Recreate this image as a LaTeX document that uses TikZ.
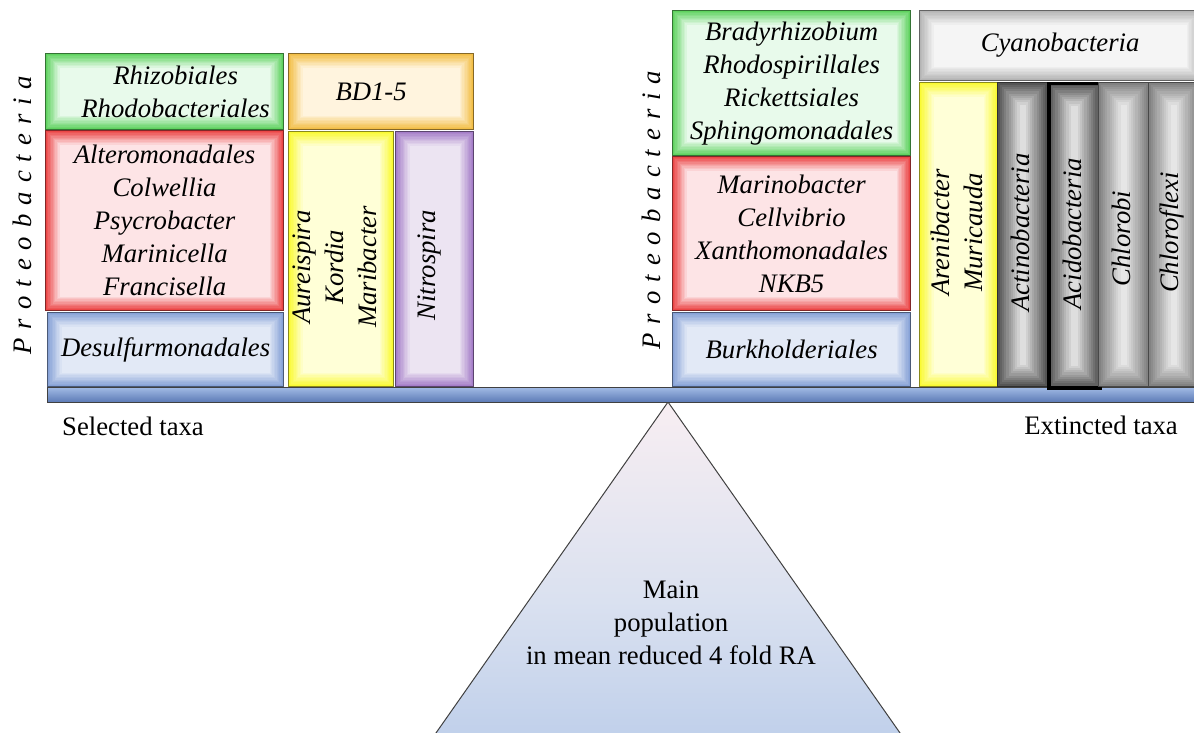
\documentclass[tikz,border=0pt]{standalone}
\usepackage{fontspec}
\setmainfont{Liberation Serif}
\usetikzlibrary{calc}

\definecolor{gGlow}{RGB}{95,210,95}
\definecolor{gPale}{RGB}{232,250,235}
\definecolor{rGlow}{RGB}{235,70,70}
\definecolor{rPale}{RGB}{253,228,230}
\definecolor{bGlow}{RGB}{135,162,215}
\definecolor{bPale}{RGB}{226,233,246}
\definecolor{oGlow}{RGB}{242,190,70}
\definecolor{oPale}{RGB}{255,244,222}
\definecolor{yGlow}{RGB}{250,250,50}
\definecolor{yPale}{RGB}{255,255,215}
\definecolor{pGlow}{RGB}{165,125,200}
\definecolor{pPale}{RGB}{236,228,242}
\definecolor{kGlow}{RGB}{85,85,85}
\definecolor{kPale}{RGB}{222,222,222}
\definecolor{lGlow}{RGB}{130,130,130}
\definecolor{lPale}{RGB}{230,230,230}
\definecolor{wGlow}{RGB}{180,180,180}
\definecolor{wPale}{RGB}{245,245,245}
\definecolor{beamTop}{RGB}{160,185,228}
\definecolor{beamBot}{RGB}{90,120,180}
\definecolor{fulTop}{RGB}{248,238,242}
\definecolor{fulMid}{RGB}{218,225,240}
\definecolor{fulBot}{RGB}{180,200,232}

\newcommand{\txfont}{\fontsize{26.7pt}{33pt}\selectfont}

\tikzset{
  glow step/.store in=\glowstep, glow step=1.4pt,
  taxon/.style 2 args={draw=#1!55!black, line width=1.2pt, anchor=north west,
    inner sep=0pt, align=center, font=\txfont\itshape,
    path picture={
      \foreach \i [evaluate=\i as \p using int(100-10*\i)] in {0,...,10}
        \fill[#1!\p!#2] ($(path picture bounding box.south west)+(\i*\glowstep,\i*\glowstep)$)
          rectangle ($(path picture bounding box.north east)-(\i*\glowstep,\i*\glowstep)$);
    }},
  vlabel/.style={rotate=90, align=center, inner sep=0pt, font=\txfont\itshape},
  plain/.style={align=center, inner sep=0pt, font=\txfont}
}

\begin{document}
\begin{tikzpicture}[x=1pt, y=-1pt]
    \useasboundingbox (0,0) rectangle (1194,733);

    % fulcrum
    \coordinate (apex) at (668,402);
    \draw[line width=1pt, black!75, top color=fulTop, bottom color=fulBot, middle color=fulMid]
        (apex) -- (389,800) -- (947,800) -- cycle;
    \node[plain] (mainPop) at (671,623) {Main\\population\\in mean reduced 4 fold RA};

    % beam
    \node[draw=black!75, line width=1.2pt, anchor=north west, minimum width=1153pt, minimum height=15pt,
        inner sep=0pt, top color=beamTop, bottom color=beamBot] (beam) at (47,387) {};

    % selected side
    \node[taxon={gGlow}{gPale}, minimum width=238pt, minimum height=76pt] (lGreen) at (45,53) {\hspace*{22pt}Rhizobiales\\\hspace*{22pt}Rhodobacteriales};
    \node[taxon={rGlow}{rPale}, minimum width=238pt, minimum height=180pt] (lRed) at (45,130)
        {Alteromonadales\\Colwellia\\Psycrobacter\\Marinicella\\Francisella};
    \node[taxon={bGlow}{bPale}, minimum width=236pt, minimum height=74pt] (lBlue) at (47,312) {Desulfurmonadales};
    \node[taxon={oGlow}{oPale}, minimum width=185pt, minimum height=76pt] (bdBox) at (288,53) {BD1-5\hspace*{20pt}};
    \node[taxon={yGlow}{yPale}, minimum width=105pt, minimum height=255pt] (lYellow) at (288,131) {};
    \node[taxon={pGlow}{pPale}, minimum width=78pt, minimum height=255pt] (lPurple) at (395,131) {};
    \node[vlabel] (aureiText) at ($(lYellow)+(-6,8)$) {Aureispira\\Kordia\\Maribacter};
    \node[vlabel] (nitroText) at ($(lPurple)+(-5,6)$) {Nitrospira};
    \node[rotate=90, inner sep=0pt, font=\txfont\itshape] (lProteo) at (22,215)
        {\spaceskip=9pt P r o t e o b a c t e r i a};

    % extincted side
    \node[taxon={gGlow}{gPale}, minimum width=238pt, minimum height=145pt] (rGreen) at (672,10)
        {Bradyrhizobium\\Rhodospirillales\\Rickettsiales\\Sphingomonadales};
    \node[taxon={rGlow}{rPale}, minimum width=238pt, minimum height=154pt] (rRed) at (672,156)
        {Marinobacter\\Cellvibrio\\Xanthomonadales\\NKB5};
    \node[taxon={bGlow}{bPale}, minimum width=238pt, minimum height=74pt] (rBlue) at (672,312) {Burkholderiales};
    \node[taxon={wGlow}{wPale}, minimum width=281pt, minimum height=70pt] (cyano) at (919,10) {Cyanobacteria};
    \node[taxon={yGlow}{yPale}, minimum width=78pt, minimum height=304pt] (rYellow) at (919,82) {};
    \node[taxon={kGlow}{kPale}, glow step=2.2pt, minimum width=50pt, minimum height=304pt] (actino) at (997,82) {};
    \node[taxon={kGlow}{kPale}, glow step=2.2pt, minimum width=51pt, minimum height=304pt, draw=black, line width=3.5pt] (acido) at (1047,82) {};
    \node[taxon={lGlow}{lPale}, glow step=2.2pt, minimum width=50pt, minimum height=304pt] (chlorobi) at (1098,82) {};
    \node[taxon={lGlow}{lPale}, glow step=2.2pt, minimum width=50pt, minimum height=304pt] (chloroflexi) at (1148,82) {};
    \node[vlabel] (areniText) at ($(rYellow)+(-2,-2)$) {Arenibacter\\Muricauda};
    \node[vlabel] (actinoText) at ($(actino)+(-2,-2)$) {Actinobacteria};
    \node[vlabel] (acidoText) at ($(acido)+(-2,-2)$) {Acidobacteria};
    \node[vlabel] (chlorobiText) at ($(chlorobi)+(-2,4)$) {Chlorobi};
    \node[vlabel] (chloroflexiText) at ($(chloroflexi)+(-2,-2)$) {Chloroflexi};
    \node[rotate=90, inner sep=0pt, font=\txfont\itshape] (rProteo) at (651,210)
        {\spaceskip=9pt P r o t e o b a c t e r i a};

    % side labels
    \node[plain, anchor=base west] (selLabel) at (62,435) {Selected taxa};
    \node[plain, anchor=base east] (extLabel) at (1178,434) {Extincted taxa};
\end{tikzpicture}
\end{document}
